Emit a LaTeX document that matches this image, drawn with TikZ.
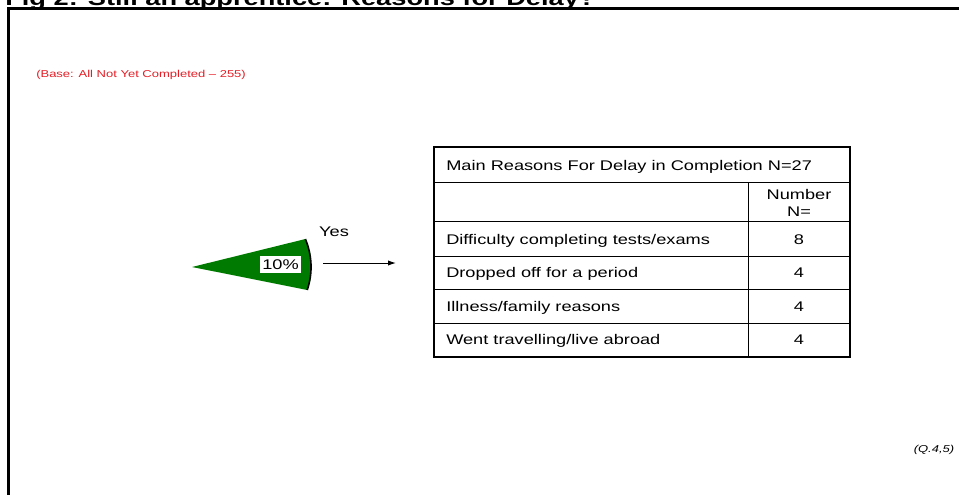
\documentclass[tikz,border=0pt]{standalone}
\usepackage{fontspec}
\setmainfont{Liberation Sans}[FakeStretch=1.3]
\usetikzlibrary{arrows.meta}

\definecolor{wedgegreen}{RGB}{0,122,0}
\definecolor{basered}{RGB}{228,30,38}

\tikzset{
    celltext/.style={font=\fontsize{10.5}{12}\selectfont, inner sep=0pt},
    smalltext/.style={font=\fontsize{7.5}{9}\selectfont, inner sep=0pt},
    gridline/.style={line width=0.75pt},
}

\begin{document}
\begin{tikzpicture}[x=0.75pt, y=-0.75pt]
        \useasboundingbox (0, 0) rectangle (959, 494);

        \node[anchor=base west, inner sep=0pt, font=\fontsize{15.7}{18}\selectfont\bfseries] (title) at (5, 5) {Fig 2: Still an apprentice: Reasons for Delay?};
        \draw[line width=2.25pt] (8, 8) rectangle (990, 520);

        \node[smalltext, anchor=base west, text=basered] (base) at (36, 77) {(Base: All Not Yet Completed -- 255)};
        \node[smalltext, anchor=base, font=\fontsize{7.5}{9}\selectfont\itshape] (qref) at (934, 452) {(Q.4,5)};

        \coordinate (apex) at (192, 267);
        \coordinate (arcstart) at (305.4, 239.0);
        \fill[wedgegreen] (apex) -- (arcstart) arc[start angle=-17.7, end angle=14.5, x radius=119, y radius=92] -- cycle;
        \draw[line width=1.2pt] (arcstart) arc[start angle=-17.7, end angle=14.5, x radius=119, y radius=92];
        \node[celltext, fill=white, minimum width=30.75pt, minimum height=12.75pt] (pct) at (280.5, 264.5) {10\%};

        \node[celltext, anchor=base] (yes) at (334, 236.5) {Yes};
        \coordinate (arrowstart) at (323, 263);
        \coordinate (arrowend) at (396, 263);
        \draw[line width=0.75pt, -{Latex[length=6pt, width=4pt]}] (arrowstart) -- (arrowend);

        \coordinate (tabNW) at (434, 147);
        \coordinate (tabSE) at (850, 357);
        \draw[gridline] (434, 182) -- (850, 182);
        \draw[gridline] (434, 221) -- (850, 221);
        \draw[gridline] (434, 256) -- (850, 256);
        \draw[gridline] (434, 289) -- (850, 289);
        \draw[gridline] (434, 323) -- (850, 323);
        \draw[gridline] (748, 182) -- (748, 357);
        \draw[line width=1.6pt] (tabNW) rectangle (tabSE);

        \node[celltext, anchor=base west] (hdr) at (446, 170.5) {Main Reasons For Delay in Completion N=27};
        \node[celltext, anchor=base] (numhdr) at (799, 199.5) {Number};
        \node[celltext, anchor=base] (numN) at (799, 216) {N=};

        \node[celltext, anchor=base west] (r1) at (446, 244) {Difficulty completing tests/exams};
        \node[celltext, anchor=base west] (r2) at (446, 277.5) {Dropped off for a period};
        \node[celltext, anchor=base west] (r3) at (446, 311) {Illness/family reasons};
        \node[celltext, anchor=base west] (r4) at (446, 344.5) {Went travelling/live abroad};

        \node[celltext, anchor=base] (n1) at (799, 244) {8};
        \node[celltext, anchor=base] (n2) at (799, 277.5) {4};
        \node[celltext, anchor=base] (n3) at (799, 311) {4};
        \node[celltext, anchor=base] (n4) at (799, 344.5) {4};
    \end{tikzpicture}
\end{document}
